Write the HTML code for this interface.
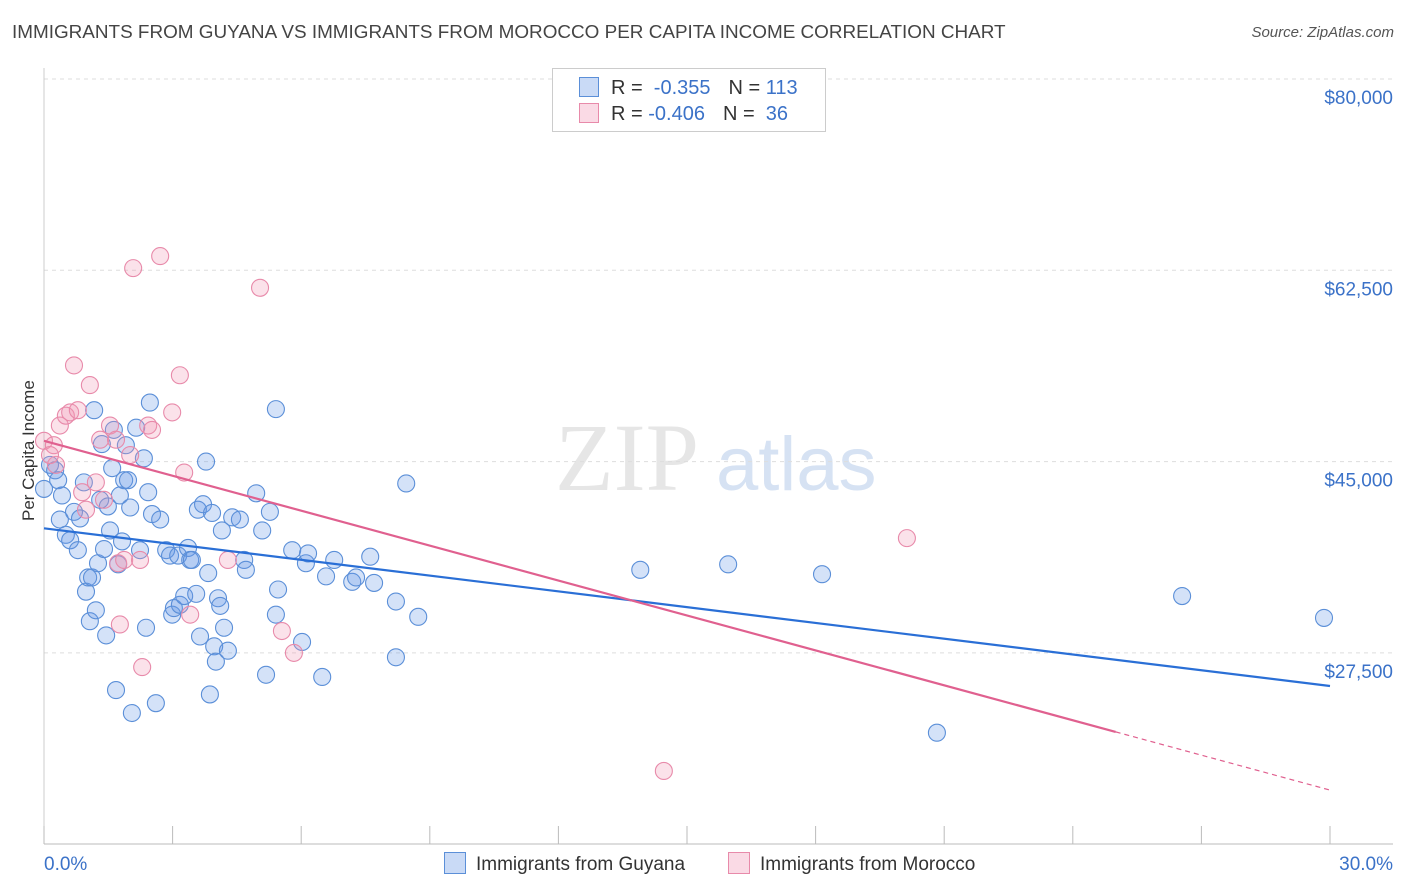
<!DOCTYPE html>
<html><head><meta charset="utf-8">
<style>
body{margin:0;background:#fff;font-family:"Liberation Sans",sans-serif;}
#wrap{position:relative;width:1406px;height:892px;overflow:hidden;}
.t{position:absolute;white-space:nowrap;}
</style></head>
<body>
<div id="wrap">
<div class="t" style="left:12px;top:22px;font-size:18.9px;color:#444;">IMMIGRANTS FROM GUYANA VS IMMIGRANTS FROM MOROCCO PER CAPITA INCOME CORRELATION CHART</div>
<div class="t" style="right:12px;top:24px;font-size:15px;color:#555;font-style:italic;">Source: ZipAtlas.com</div>
<div class="t" style="left:-36px;top:446px;font-size:17px;color:#333;transform:rotate(-90deg);transform-origin:center;width:130px;text-align:center;">Per Capita Income</div>
<svg id="plot" width="1406" height="892" style="position:absolute;left:0;top:0"></svg>
<div style="position:absolute;left:552px;top:68px;width:272px;height:62px;border:1px solid #ccc;background:#fff;font-size:20px;">
  <div style="position:absolute;left:26px;top:8px;"><span style="display:inline-block;width:18px;height:18px;background:rgba(100,150,230,0.35);border:1px solid #5b8fd8;vertical-align:-3px;"></span><span style="color:#333;margin-left:12px">R = </span><span style="color:#3b72c8">&nbsp;-0.355</span><span style="color:#333;margin-left:18px">N = </span><span style="color:#3b72c8">113</span></div>
  <div style="position:absolute;left:26px;top:34px;"><span style="display:inline-block;width:18px;height:18px;background:rgba(240,150,180,0.35);border:1px solid #e88aaa;vertical-align:-3px;"></span><span style="color:#333;margin-left:12px">R = </span><span style="color:#3b72c8">-0.406</span><span style="color:#333;margin-left:18px">N = </span><span style="color:#3b72c8">&nbsp;36</span></div>
</div>
<div class="t" style="left:444px;top:852px;font-size:19px;color:#333;"><span style="display:inline-block;width:20px;height:20px;background:rgba(100,150,230,0.35);border:1px solid #5b8fd8;vertical-align:-4px;margin-right:10px"></span>Immigrants from Guyana</div>
<div class="t" style="left:728px;top:852px;font-size:19px;color:#333;"><span style="display:inline-block;width:20px;height:20px;background:rgba(240,150,180,0.35);border:1px solid #e88aaa;vertical-align:-4px;margin-right:10px"></span>Immigrants from Morocco</div>
</div>
<script>
const yTicks=[80000,62500,45000,27500];
const yTickLabels=["$80,000","$62,500","$45,000","$27,500"];
const xTickLabels=["0.0%","30.0%"];
const blueX=[0,0.14,0.26,0.33,0.42,0.37,0.51,0.61,0.70,0.79,0.84,0.93,0.98,1.03,1.07,1.12,1.17,1.21,1.26,1.31,1.35,1.40,1.45,1.49,1.54,1.59,1.63,1.68,1.73,1.77,1.82,1.87,1.91,1.96,2.01,2.05,2.15,2.24,2.33,2.38,2.43,2.47,2.52,2.61,2.71,2.85,2.94,2.99,3.03,3.13,3.17,3.27,3.36,3.41,3.45,3.55,3.59,3.64,3.71,3.78,3.83,3.87,3.92,3.97,4.01,4.06,4.11,4.15,4.20,4.29,4.39,4.57,4.67,4.71,4.95,5.09,5.18,5.27,5.41,5.46,5.41,5.79,6.02,6.11,6.16,6.49,6.58,6.77,7.19,7.28,7.61,7.70,8.21,8.21,8.45,8.73,13.91,15.96,18.15,20.83,26.55,29.86];
const blueY=[42500,44700,44200,43300,41900,39700,38300,37800,40400,36900,39800,43100,33100,34400,30400,34400,49700,31400,35700,41500,46600,37000,29100,40900,38700,44400,47900,24100,35600,41900,37700,43300,46500,43300,40800,22000,48100,36900,45300,29800,42200,50400,40200,22900,39700,36900,36400,31000,31600,36400,31900,32700,37100,36000,36000,32900,40600,29000,41100,45000,34800,23700,40300,28100,26700,32500,31800,38700,29800,27700,39900,39700,36000,35100,42100,38700,25500,40400,49800,33300,31000,36900,28500,35700,36600,25300,34500,36000,34000,34400,36300,33900,32200,27100,43000,30800,35100,35600,34700,20200,32700,30700];
const pinkX=[0,0.23,0.28,0.14,0.37,0.51,0.61,0.70,0.79,0.89,0.98,1.07,1.21,1.31,1.40,1.54,1.68,1.73,1.77,1.87,2.01,2.08,2.24,2.29,2.43,2.52,2.71,2.99,3.17,3.27,3.41,4.29,5.04,5.55,5.83,14.46,20.13];
const pinkY=[46900,46500,44700,45600,48300,49200,49500,53800,49700,42200,40600,52000,43100,47000,41500,48300,47000,35700,30100,36000,45600,62700,36000,26200,48300,47900,63800,49500,52900,44000,31000,36000,60900,29500,27500,16700,38000];
const blueTrend=[38900,24470];   // value at 0% and 30%
const pinkTrend=[46900,14950];   // value at 0% and 30%
const pinkSolidEnd=25;

const X0=44,X1=1330,Ytop=79,pxPerDollar=191.3/17500;
function xs(v){return X0+v*(X1-X0)/30;}
function ys(v){return Ytop+(80000-v)*pxPerDollar;}
const svg=document.getElementById('plot');
const NS='http://www.w3.org/2000/svg';
function mk(tag,attrs){const e=document.createElementNS(NS,tag);for(const k in attrs)e.setAttribute(k,attrs[k]);svg.appendChild(e);return e;}

let wm=mk('text',{x:555,y:490,'font-size':96,'font-family':'Liberation Serif,serif',fill:'#e6e6e6'});wm.textContent='ZIP';


let wm2=mk('text',{x:716,y:490,'font-size':76,'font-family':'Liberation Sans,sans-serif',fill:'#d6e2f3'});wm2.textContent='atlas';



yTicks.forEach((t,i)=>{
  const g=mk('line',{x1:X0,x2:1393,y1:ys(t),y2:ys(t),stroke:'#ddd','stroke-dasharray':'4,4'});
  
  
  const l=mk('text',{x:1393,y:ys(t)+25,'text-anchor':'end','font-size':19,fill:'#3b72c8'});
  l.textContent=yTickLabels[i];
  
  
});
const ax=mk('line',{x1:X0,x2:1393,y1:844,y2:844,stroke:'#bbb'});


const ay=mk('line',{x1:X0,x2:X0,y1:68,y2:844,stroke:'#ccc'});


for(let i=0;i<=10;i++){
  const tk=mk('line',{x1:xs(i*3),x2:xs(i*3),y1:826,y2:844,stroke:'#bbb'});
  
  
}
[[0,'start'],[30,'end']].forEach((p,i)=>{
  const l=mk('text',{x:i?1393:X0,y:870,'text-anchor':p[1],'font-size':19,fill:'#3b72c8'});
  l.textContent=xTickLabels[i];
  
  
});

blueX.forEach((x,i)=>{
  const c=mk('circle',{cx:xs(x),cy:ys(blueY[i]),r:8.5,fill:'rgba(100,150,230,0.28)',stroke:'#5b8fd8','stroke-width':1.1});
  
  
});
pinkX.forEach((x,i)=>{
  const c=mk('circle',{cx:xs(x),cy:ys(pinkY[i]),r:8.5,fill:'rgba(240,150,180,0.28)',stroke:'#e88aaa','stroke-width':1.1});
  
  
});
const bt=mk('line',{x1:xs(0),y1:ys(blueTrend[0]),x2:xs(30),y2:ys(blueTrend[1]),stroke:'#2a6fd6','stroke-width':2.2});


const pAt=v=>pinkTrend[0]+(pinkTrend[1]-pinkTrend[0])*v/30;
const pt=mk('line',{x1:xs(0),y1:ys(pinkTrend[0]),x2:xs(pinkSolidEnd),y2:ys(pAt(pinkSolidEnd)),stroke:'#e0608f','stroke-width':2.2});


const pd=mk('line',{x1:xs(pinkSolidEnd),y1:ys(pAt(pinkSolidEnd)),x2:xs(30),y2:ys(pinkTrend[1]),stroke:'#e0608f','stroke-width':1.2,'stroke-dasharray':'5,4'});


</script>
</body></html>
